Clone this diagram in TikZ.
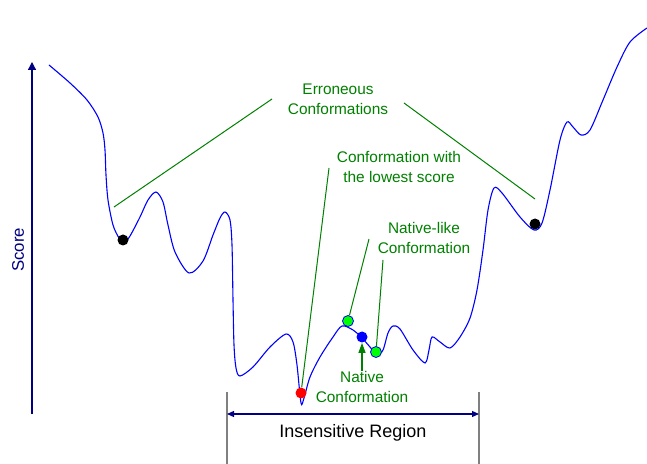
\documentclass[tikz,border=0pt]{standalone}
\usepackage{fontspec}
\setmainfont{Liberation Sans}
\usetikzlibrary{arrows.meta}

\definecolor{leafgreen}{RGB}{0,128,0}
\definecolor{axisblue}{RGB}{0,0,128}
\definecolor{curveblue}{RGB}{0,0,255}
\definecolor{limegreen}{RGB}{0,255,0}

\begin{document}
\begin{tikzpicture}[x=0.5pt, y=-0.5pt,
  curve/.style={curveblue, line width=0.55pt},
  leader/.style={leafgreen, line width=0.5pt},
  greentext/.style={text=leafgreen, align=center, inner sep=0pt,
    font=\fontsize{7.7}{10}\selectfont},
  dot/.style={circle, inner sep=0pt, minimum size=5.5pt},
  likedot/.style={dot, fill=limegreen, draw=curveblue, line width=0.4pt}]

  \useasboundingbox (0,0) rectangle (647,464);

  % score axis
  \coordinate (axislow) at (32,414);
  \coordinate (axistop) at (32,62);
  \draw[axisblue, line width=0.6pt, -{Triangle[length=4pt,width=4pt]}] (axislow) -- (axistop);
  \node[rotate=90, text=axisblue, font=\fontsize{8.4}{10}\selectfont] (score) at (18,250) {Score};

  % score landscape
  \draw[curve] plot[smooth, tension=0.5] coordinates {
    (49,65) (70,83) (87,100) (98,117) (103,133) (105,150) (106,175) (108,200)
    (113,225) (119,238) (124,243) (130,236) (140,217) (148,200) (156,192)
    (163,202) (168,225) (175,252) (189,273) (203,261) (213,235) (220,218)
    (225,212) (230,220) (232,245) (233,300) (234,345) (236,368) (240,376)
    (253,367) (270,347) (286,334) (293,342) (297,365) (301,403) (304,398)
    (310,377) (320,357) (333,337) (342,326) (353,330) (362,338) (370,347)
    (377,355) (383,350) (388,333) (393,326) (400,329) (413,350) (425,363)
    (429,350) (432,337) (440,342) (450,348) (460,337) (470,318) (477,290)
    (483,250) (488,210) (494,188) (502,193) (520,217) (534,230) (542,223)
    (550,190) (560,140) (567,122) (573,127) (581,135) (590,130) (603,100)
    (617,67) (630,42) (647,28)};

  % conformations
  \node[dot, fill=black] (errleft) at (123,240) {};
  \node[dot, fill=black] (errright) at (535,224) {};
  \node[dot, fill=red] (lowest) at (301,393) {};
  \node[likedot] (likeA) at (348,321) {};
  \node[likedot] (likeB) at (376,352) {};
  \node[dot, fill=curveblue] (native) at (362,337) {};

  % labels
  \node[greentext] (errtext) at (338,99) {Erroneous\\Conformations};
  \node[greentext] (lowtext) at (399,167) {Conformation with\\the lowest score};
  \node[greentext] (liketext) at (424,238) {Native-like\\Conformation};
  \node[greentext] (nattext) at (362,387) {Native\\Conformation};

  \coordinate (errA) at (272,99);
  \coordinate (errB) at (114,207);
  \coordinate (errC) at (404,103);
  \coordinate (errD) at (535,199);
  \coordinate (lowtop) at (329,168);
  \coordinate (likeAtop) at (369,239);
  \coordinate (likeBtop) at (383,260);

  \draw[leader] (errA) -- (errB);
  \draw[leader] (errC) -- (errD);
  \draw[leader] (lowtop) -- (lowest);
  \draw[leader] (likeAtop) -- (likeA);
  \draw[leader] (likeBtop) -- (likeB);
  \draw[leader, line width=0.6pt, -{Triangle[length=5pt,width=3.5pt]}] (nattext.north) -- (native);

  % insensitive region
  \coordinate (regLtop) at (227,392);
  \coordinate (regLbot) at (227,464);
  \coordinate (regRtop) at (479,392);
  \coordinate (regRbot) at (479,464);
  \coordinate (regL) at (227,414);
  \coordinate (regR) at (479,414);
  \draw[gray, line width=0.8pt] (regLtop) -- (regLbot);
  \draw[gray, line width=0.8pt] (regRtop) -- (regRbot);
  \draw[axisblue, line width=0.6pt, {Triangle[length=3.5pt,width=3pt]}-{Triangle[length=3.5pt,width=3pt]}] (regL) -- (regR);
  \node[font=\fontsize{9}{11}\selectfont] (regtext) at (353,433) {Insensitive Region};

\end{tikzpicture}
\end{document}
